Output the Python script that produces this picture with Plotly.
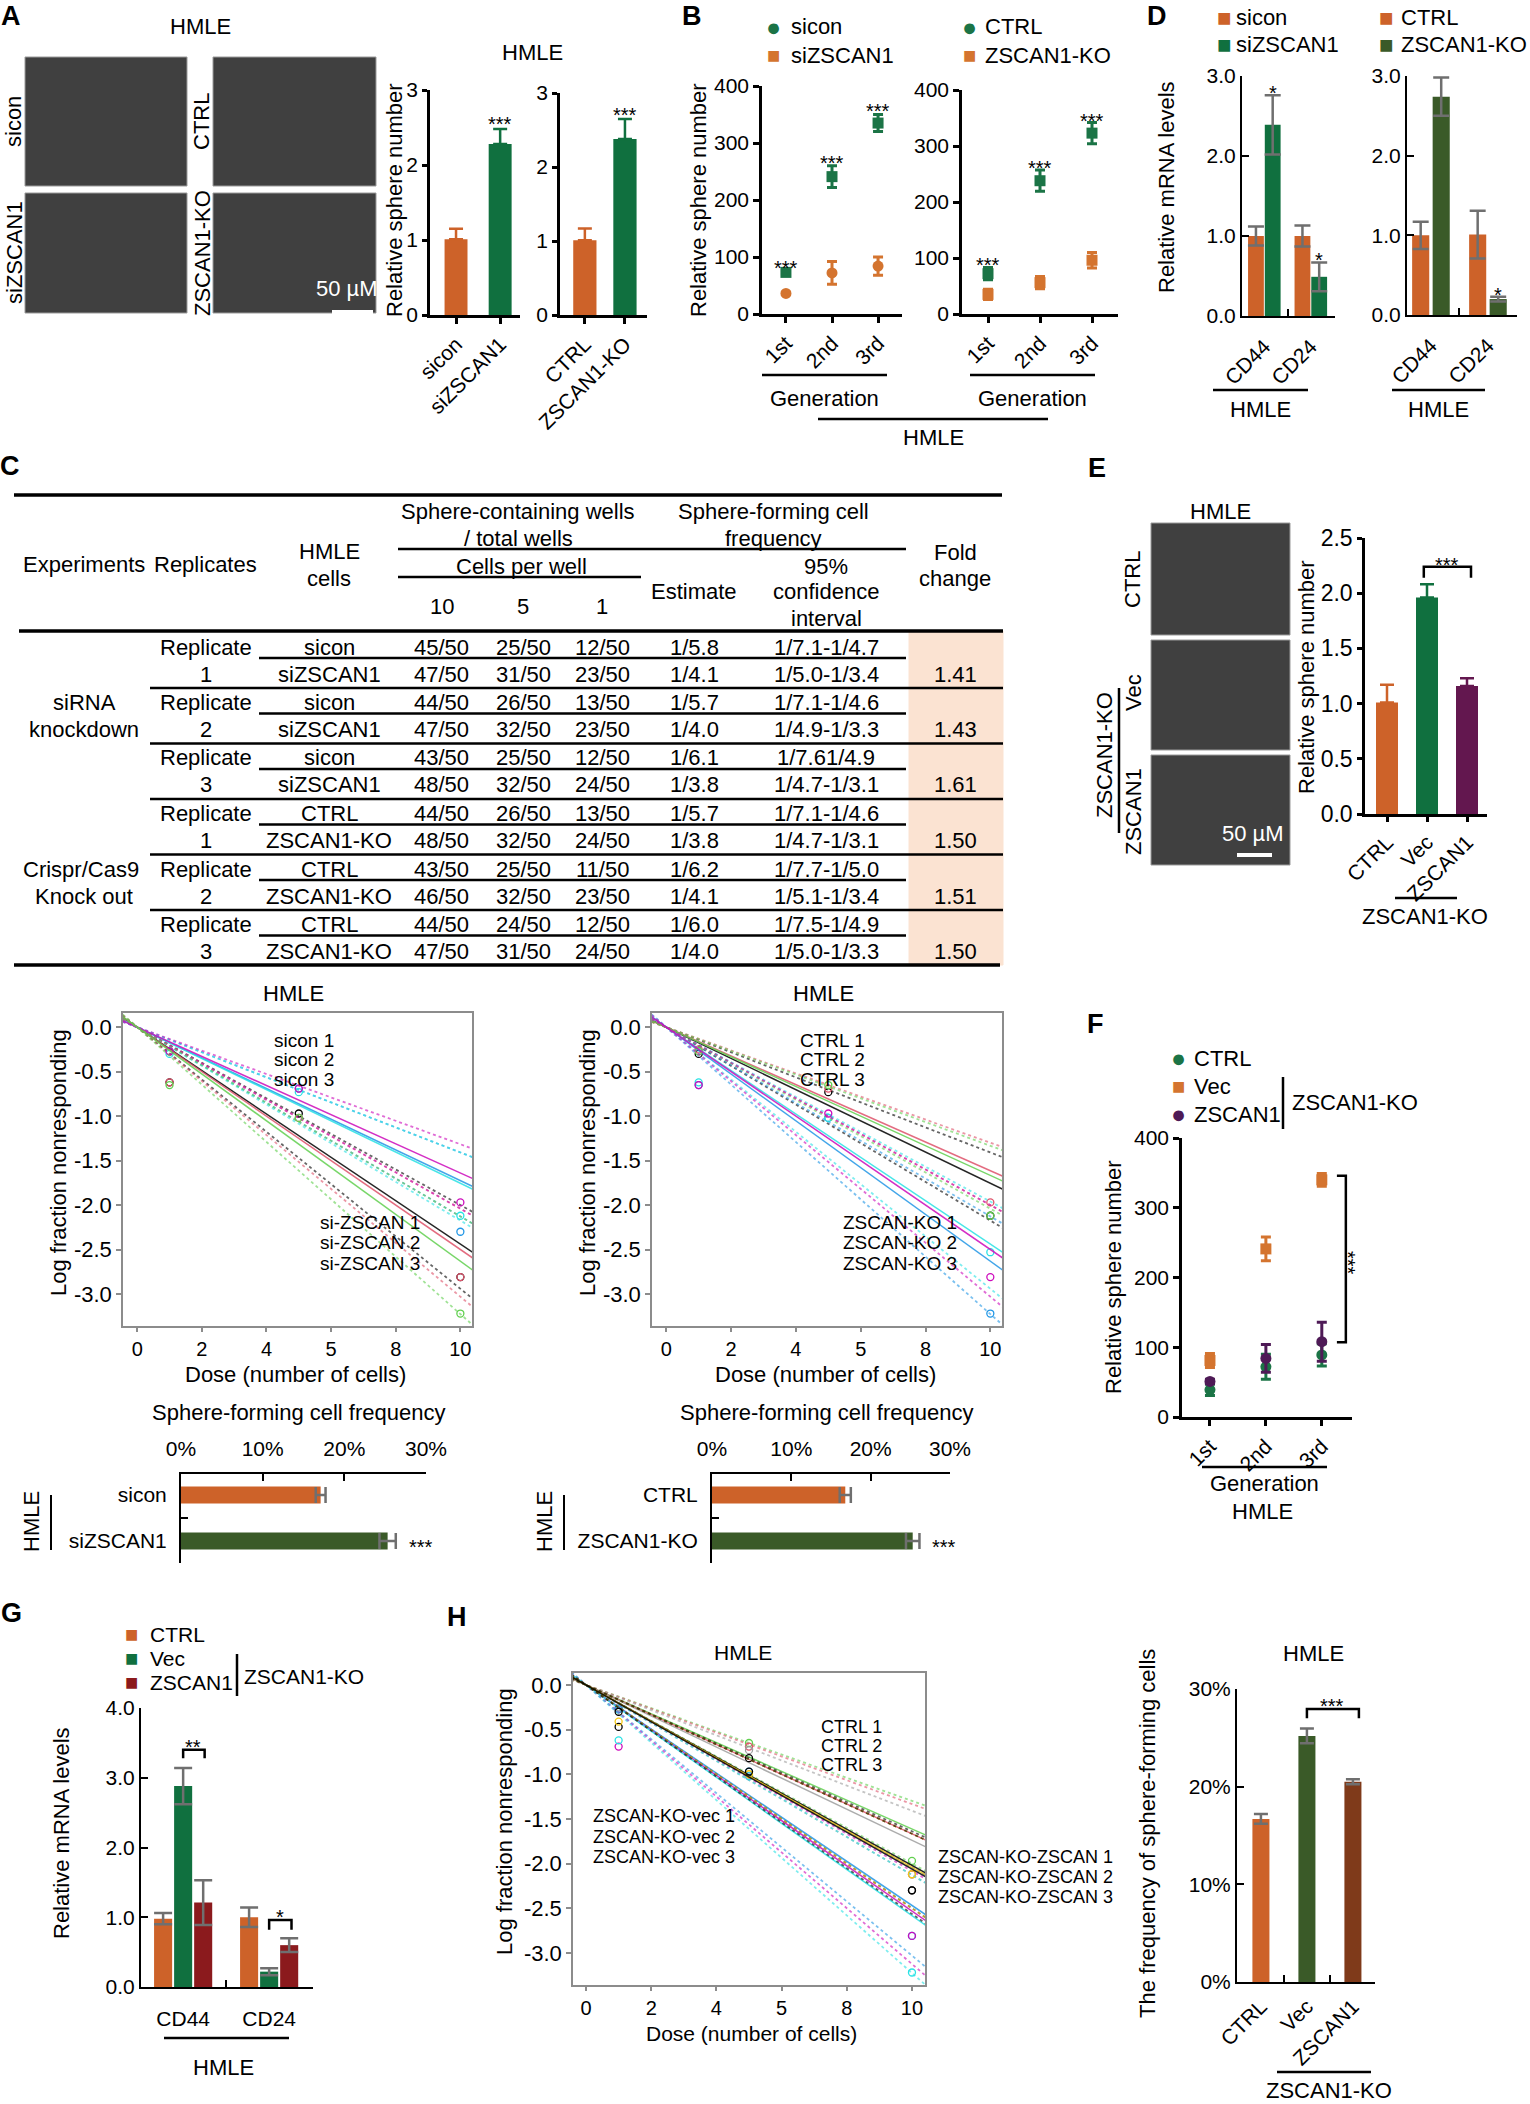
import plotly.graph_objects as go

W, H = 1530, 2104
FONT = "Liberation Sans, Arial, Helvetica, sans-serif"

ORANGE = "#cd6229"
GREEN = "#10703f"
OLIVE = "#3a5a28"
PURPLE = "#63174f"
CRIMSON = "#8b1a1d"
RUST = "#7f3a1a"
B_GREEN = "#1b7446"
B_ORANGE = "#d4742f"
F_PURPLE = "#4e1a56"
ERR = "#6f6f6f"
R_PAL = ["#000000", "#DF536B", "#61D04F", "#2297E6", "#28E2E5", "#CD0BBC", "#F5C710", "#9E9E9E"]

# ---------------- data ----------------
# A  relative sphere number
a_si_groups = ["sicon", "siZSCAN1"]
a_si_mean = [1.01, 2.28]
a_si_sem = [0.14, 0.20]
a_ko_groups = ["CTRL", "ZSCAN1-KO"]
a_ko_mean = [1.01, 2.38]
a_ko_sem = [0.16, 0.27]

# B  serial sphere formation
generations = ["1st", "2nd", "3rd"]
b_sicon = [73, 241, 335]
b_sicon_sem = [3, 19, 15]
b_siz = [36, 72, 84]
b_siz_sem = [2, 20, 16]
b_ctrl = [72, 238, 323]
b_ctrl_sem = [11, 19, 19]
b_ko = [35, 56, 96]
b_ko_sem = [9, 11, 14]

# C  limiting dilution table (rows: rep1 ctrl, rep1 kd, rep2 ctrl, ...)
rep_cells = ["sicon", "siZSCAN1"] * 3 + ["CTRL", "ZSCAN1-KO"] * 3
wells_10 = [45, 47, 44, 47, 43, 48, 44, 48, 43, 46, 44, 47]
wells_5 = [25, 31, 26, 32, 25, 32, 26, 32, 25, 32, 24, 31]
wells_1 = [12, 23, 13, 23, 12, 24, 13, 24, 11, 23, 12, 24]
estimate = [5.8, 4.1, 5.7, 4.0, 6.1, 3.8, 5.7, 3.8, 6.2, 4.1, 6.0, 4.0]
ci_text = ["1/7.1-1/4.7", "1/5.0-1/3.4", "1/7.1-1/4.6", "1/4.9-1/3.3", "1/7.61/4.9", "1/4.7-1/3.1",
           "1/7.1-1/4.6", "1/4.7-1/3.1", "1/7.7-1/5.0", "1/5.1-1/3.4", "1/7.5-1/4.9", "1/5.0-1/3.3"]
ci_low = [7.1, 5.0, 7.1, 4.9, 7.6, 4.7, 7.1, 4.7, 7.7, 5.1, 7.5, 5.0]
ci_high = [4.7, 3.4, 4.6, 3.3, 4.9, 3.1, 4.6, 3.1, 5.0, 3.4, 4.9, 3.3]
fold_change = ["1.41", "1.43", "1.61", "1.50", "1.51", "1.50"]

# C  log fraction nonresponding at doses 1, 5, 10 (same row order as table)
elda_doses = [1, 5, 10]
lf_points = [
    [-0.27, -0.69, -2.30], [-0.62, -0.97, -2.81],
    [-0.30, -0.73, -2.12], [-0.62, -1.02, -2.81],
    [-0.27, -0.69, -1.97], [-0.65, -1.02, -3.22],
    [-0.30, -0.73, -2.12], [-0.65, -1.02, -3.22],
    [-0.25, -0.69, -1.97], [-0.62, -1.02, -2.53],
    [-0.27, -0.65, -2.12], [-0.65, -0.97, -2.81],
]
dose_ticks = [0, 2, 4, 6, 8, 10]
dose_ticktext = ["0", "2", "4", "5", "8", "10"]
lf_ticks = [0, -0.5, -1, -1.5, -2, -2.5, -3]
lf_ticktext = ["0.0", "-0.5", "-1.0", "-1.5", "-2.0", "-2.5", "-3.0"]
pct_ticks = [0, 10, 20, 30]
pct_ticktext = ["0%", "10%", "20%", "30%"]

# C  sphere-forming cell frequency (%)
c_si_groups = ["sicon", "siZSCAN1"]
c_si_freq = [17.1, 25.3]
c_si_sem = [0.6, 1.0]
c_ko_groups = ["CTRL", "ZSCAN1-KO"]
c_ko_freq = [16.8, 25.3]
c_ko_sem = [0.7, 0.85]

# D  relative mRNA
genes = ["CD44", "CD24"]
d_sicon = [1.0, 1.0]
d_sicon_sem = [0.12, 0.13]
d_siz = [2.39, 0.49]
d_siz_sem = [0.37, 0.18]
d_ctrl = [1.0, 1.01]
d_ctrl_sem = [0.17, 0.30]
d_ko = [2.74, 0.20]
d_ko_sem = [0.24, 0.03]

# E  rescue, relative sphere number
rescue_groups = ["CTRL", "Vec", "ZSCAN1"]
e_mean = [1.01, 1.96, 1.16]
e_sem = [0.16, 0.12, 0.07]

# F  serial sphere formation, rescue
f_ctrl = [39, 72, 89]
f_ctrl_sem = [8, 18, 16]
f_vec = [81, 241, 340]
f_vec_sem = [10, 17, 9]
f_zscan = [51, 84, 108]
f_zscan_sem = [3, 20, 28]

# G  relative mRNA, rescue
g_ctrl = [0.98, 1.00]
g_ctrl_sem = [0.08, 0.14]
g_vec = [2.88, 0.22]
g_vec_sem = [0.26, 0.05]
g_zscan = [1.21, 0.60]
g_zscan_sem = [0.32, 0.10]

# H  limiting dilution, rescue
h_names = ["CTRL", "ZSCAN-KO-vec", "ZSCAN-KO-ZSCAN"]
h_est = [6.2, 6.0, 5.75, 4.05, 3.95, 3.87, 4.95, 4.9, 4.85]
h_ci_low = [7.7, 7.5, 7.1, 4.9, 4.8, 4.7, 6.1, 6.0, 6.0]
h_ci_high = [5.0, 4.9, 4.7, 3.3, 3.2, 3.1, 4.0, 4.0, 3.9]
h_points = [
    [-0.27, -0.65, -1.97], [-0.27, -0.69, -2.12], [-0.25, -0.73, -2.12],
    [-0.27, -0.97, -2.81], [-0.69, -1.02, -2.81], [-0.62, -1.02, -3.22],
    [-0.47, -0.82, -2.30], [-0.41, -1.00, -2.12], [-0.30, -0.97, -2.30],
]
h_freq = [16.7, 25.2, 20.5]
h_freq_sem = [0.5, 0.75, 0.25]

fig = go.Figure()
axis_no = [0]


def axes(left, right, top, bottom, xaxis, yaxis):
    axis_no[0] += 1
    s = "" if axis_no[0] == 1 else str(axis_no[0])
    fig.update_layout({
        "xaxis" + s: dict(domain=[left / W, right / W], anchor="y" + s, **xaxis),
        "yaxis" + s: dict(domain=[1 - bottom / H, 1 - top / H], anchor="x" + s, **yaxis),
    })
    return "x" + s, "y" + s


def prism(**kw):
    ax = dict(showline=True, linecolor="black", linewidth=2.5, ticks="outside", ticklen=6,
              tickwidth=2.5, tickcolor="black", showgrid=False, zeroline=False, fixedrange=True,
              automargin=False, tickfont=dict(family=FONT, size=21, color="black"))
    ax.update(kw)
    return ax


def excel(**kw):
    ax = prism(linewidth=2, tickwidth=2, ticks="inside", ticklen=7)
    ax.update(kw)
    return ax


def elda(**kw):
    ax = dict(showline=True, mirror=True, linecolor="#8c8c8c", linewidth=1.5, ticks="outside",
              ticklen=5, tickwidth=1.5, tickcolor="#8c8c8c", showgrid=False, zeroline=False,
              fixedrange=True, automargin=False, tickfont=dict(family=FONT, size=22, color="black"))
    ax.update(kw)
    return ax


def text(x, y, s, size=22, color="black", angle=0, anchor="center"):
    fig.add_annotation(x=x / W, y=1 - y / H, xref="paper", yref="paper", text=s, showarrow=False,
                       textangle=angle, xanchor=anchor, yanchor="middle",
                       font=dict(family=FONT, size=size, color=color))


def line(x0, y0, x1, y1, width=2.0, color="black"):
    fig.add_shape(type="line", xref="paper", yref="paper", x0=x0 / W, y0=1 - y0 / H,
                  x1=x1 / W, y1=1 - y1 / H, line=dict(color=color, width=width))


def rect(x0, y0, x1, y1, fill, edge=None):
    fig.add_shape(type="rect", xref="paper", yref="paper", x0=x0 / W, y0=1 - y0 / H,
                  x1=x1 / W, y1=1 - y1 / H, fillcolor=fill, layer="below",
                  line=dict(color=edge or fill, width=1))


def stars(xa, ya, x, y, s, size=20):
    fig.add_annotation(x=x, y=y, xref=xa, yref=ya, text=s, showarrow=False, yshift=-6,
                       font=dict(family=FONT, size=size, color="black"))


def bracket(xa, ya, xs, ys, width=2.5):
    path = "M" + " L".join(f"{a},{b}" for a, b in zip(xs, ys))
    fig.add_shape(type="path", xref=xa, yref=ya, path=path, line=dict(color="black", width=width))


def bar(xa, ya, x, y, color, width, err, err_color=None, up_only=False, offset=None, cap=7,
        horizontal=False):
    eb = dict(type="data", array=err, color=err_color or color, thickness=2.5, width=cap)
    if up_only:
        eb.update(symmetric=False, arrayminus=[0] * len(err))
    kw = dict(error_x=eb, orientation="h", x=y, y=x) if horizontal else dict(error_y=eb, x=x, y=y)
    fig.add_trace(go.Bar(width=width, offset=offset, marker=dict(color=color, line=dict(width=0)),
                         xaxis=xa, yaxis=ya, showlegend=False, hoverinfo="skip", **kw))


def points(xa, ya, x, y, err, color, symbol):
    fig.add_trace(go.Scatter(x=x, y=y, mode="markers", marker=dict(symbol=symbol, size=11, color=color),
                             error_y=dict(type="data", array=err, color=color, thickness=3, width=5),
                             xaxis=xa, yaxis=ya, showlegend=False, hoverinfo="skip"))


fit_span = [-0.45, 10.45]


def elda_group(xa, ya, est, lo, hi, pts, color):
    fig.add_trace(go.Scatter(x=fit_span, y=[-d / est for d in fit_span], mode="lines",
                             line=dict(color=color, width=1.5), opacity=0.85, xaxis=xa, yaxis=ya,
                             showlegend=False, hoverinfo="skip"))
    for b in (lo, hi):
        fig.add_trace(go.Scatter(x=fit_span, y=[-d / b for d in fit_span], mode="lines",
                                 line=dict(color=color, width=1.8, dash="dot"), opacity=0.6,
                                 xaxis=xa, yaxis=ya, showlegend=False, hoverinfo="skip"))
    fig.add_trace(go.Scatter(x=elda_doses, y=pts, mode="markers",
                             marker=dict(symbol="circle-open", size=7, color=color, line=dict(width=1.3)),
                             xaxis=xa, yaxis=ya, showlegend=False, hoverinfo="skip"))


def panel_label(x, y, s):
    text(x, y, f"<b>{s}</b>", size=27)


def dot(x, y, color):
    text(x, y, "●", 25, color)


def square(x, y, color, size=24):
    text(x, y, "■", size, color)


# ---------------- A ----------------
panel_label(11, 16, "A")
text(200, 26, "HMLE")
for box in [(25, 57, 187, 186), (213, 57, 376, 186), (25, 193, 187, 313), (213, 193, 376, 313)]:
    rect(*box, fill="#404040", edge="#9a9a9a")
text(14, 122, "sicon", angle=-90)
text(202, 122, "CTRL", angle=-90)
text(14, 253, "siZSCAN1", angle=-90)
text(202, 253, "ZSCAN1-KO", angle=-90)
text(347, 288, "50 µM", color="white")
line(332, 312, 373, 312, 4, "white")
text(532, 52, "HMLE")
text(394, 200, "Relative sphere number", angle=-90)

xa, ya = axes(430, 520, 90, 315, prism(type="category", range=[-0.59, 1.45], tickangle=-45),
              prism(range=[0, 3], tickvals=[0, 1, 2, 3], ticklen=5))
for g, m, e, c in zip(a_si_groups, a_si_mean, a_si_sem, [ORANGE, GREEN]):
    bar(xa, ya, [g], [m], c, 0.52, [e], up_only=True)
stars(xa, ya, a_si_groups[1], 2.62, "***")

xa, ya = axes(560, 647, 93, 315, prism(type="category", range=[-0.62, 1.55], tickangle=-45),
              prism(range=[0, 3], tickvals=[0, 1, 2, 3], ticklen=5))
for g, m, e, c in zip(a_ko_groups, a_ko_mean, a_ko_sem, [ORANGE, GREEN]):
    bar(xa, ya, [g], [m], c, 0.58, [e], up_only=True)
stars(xa, ya, a_ko_groups[1], 2.78, "***")

# ---------------- B ----------------
panel_label(692, 16, "B")
dot(773, 27, B_GREEN)
text(789, 27, "sicon", anchor="left")
square(773, 55, B_ORANGE, 22)
text(789, 55, "siZSCAN1", anchor="left")
dot(969, 27, B_GREEN)
text(983, 27, "CTRL", anchor="left")
square(969, 55, B_ORANGE, 22)
text(983, 55, "ZSCAN1-KO", anchor="left")
text(698, 200, "Relative sphere number", angle=-90)

ytick400 = dict(range=[0, 400], tickvals=[0, 100, 200, 300, 400])
xa, ya = axes(762, 902, 86, 314, prism(type="category", range=[-0.52, 2.52], tickangle=-45), prism(**ytick400))
points(xa, ya, generations, b_siz, b_siz_sem, B_ORANGE, "circle")
points(xa, ya, generations, b_sicon, b_sicon_sem, B_GREEN, "square")
for g, s in zip(generations, [92, 275, 366]):
    stars(xa, ya, g, s, "***")

xa, ya = axes(962, 1118, 90, 314, prism(type="category", range=[-0.5, 2.5], tickangle=-45), prism(**ytick400))
points(xa, ya, generations, b_ko, b_ko_sem, B_ORANGE, "square")
points(xa, ya, generations, b_ctrl, b_ctrl_sem, B_GREEN, "square")
for g, s in zip(generations, [98, 272, 355]):
    stars(xa, ya, g, s, "***")

line(762, 375, 887, 375, 2.5)
line(970, 375, 1095, 375, 2.5)
text(824, 398, "Generation")
text(1032, 398, "Generation")
line(818, 419, 1048, 419, 2.5)
text(933, 438, "HMLE")

# ---------------- D ----------------
panel_label(1157, 16, "D")
square(1224, 17, ORANGE)
text(1234, 17, "sicon", anchor="left")
square(1224, 45, GREEN)
text(1234, 45, "siZSCAN1", anchor="left")
square(1386, 17, ORANGE)
text(1399, 17, "CTRL", anchor="left")
square(1386, 45, OLIVE)
text(1399, 45, "ZSCAN1-KO", anchor="left")
text(1167, 187, "Relative mRNA levels", angle=-90)

ytick3 = dict(range=[0, 3], tickvals=[0, 1, 2, 3], tickformat=".1f")
xa, ya = axes(1242, 1335, 76, 316,
              excel(type="category", range=[-0.48, 1.52], tickangle=-45, tickson="boundaries", ticklabelstandoff=8),
              excel(**ytick3))
bar(xa, ya, genes, d_sicon, ORANGE, 0.34, d_sicon_sem, ERR, offset=-0.35, cap=8)
bar(xa, ya, genes, d_siz, GREEN, 0.34, d_siz_sem, ERR, offset=0.01, cap=8)
stars(xa, ya, 0.18, 2.86, "*")
stars(xa, ya, 1.18, 0.78, "*")

xa, ya = axes(1407, 1517, 76, 315,
              excel(type="category", range=[-0.42, 1.51], tickangle=-45, tickson="boundaries", ticklabelstandoff=8),
              excel(**ytick3))
bar(xa, ya, genes, d_ctrl, ORANGE, 0.3, d_ctrl_sem, ERR, offset=-0.33, cap=8)
bar(xa, ya, genes, d_ko, OLIVE, 0.3, d_ko_sem, ERR, offset=0.03, cap=8)
stars(xa, ya, 0.18, 3.1, "***")
stars(xa, ya, 1.18, 0.33, "*")

line(1213, 390, 1308, 390, 2.5)
line(1392, 390, 1485, 390, 2.5)
text(1260, 409, "HMLE")
text(1438, 409, "HMLE")

# ---------------- C: table ----------------
panel_label(10, 466, "C")
TS = 22
line(14, 495, 1002, 495, 3.5)
text(518, 512, "Sphere-containing wells", TS)
text(518, 538, "/ total wells", TS)
text(773, 512, "Sphere-forming cell", TS)
text(773, 538, "frequency", TS)
line(398, 549, 906, 549, 2.5)
text(521, 566, "Cells per well", TS)
line(398, 577, 641, 577, 2.5)
text(84, 564, "Experiments", TS)
text(205, 564, "Replicates", TS)
text(329, 551, "HMLE", TS)
text(329, 578, "cells", TS)
for x, s in zip([442, 523, 602], ["10", "5", "1"]):
    text(x, 606, s, TS)
text(694, 592, "Estimate", TS)
text(826, 566, "95%", TS)
text(826, 592, "confidence", TS)
text(826, 618, "interval", TS)
text(955, 552, "Fold", TS)
text(955, 578, "change", TS)
rect(909, 631, 1003, 965, fill="#fbe3d2")
line(19, 631, 1003, 631, 3.5)
for k in range(6):
    y1 = 647 + 55.5 * k
    y2 = y1 + 27
    text(206, y1, "Replicate", TS)
    text(206, y2, str(k % 3 + 1), TS)
    for j, y in ((2 * k, y1), (2 * k + 1, y2)):
        text(329, y, rep_cells[j], TS)
        text(442, y, f"{wells_10[j]}/50", TS)
        text(523, y, f"{wells_5[j]}/50", TS)
        text(602, y, f"{wells_1[j]}/50", TS)
        text(694, y, f"1/{estimate[j]:.1f}", TS)
        text(826, y, ci_text[j], TS)
    text(955, y2, fold_change[k], TS)
    line(259, y1 + 11, 906, y1 + 11, 2.5)
    if k < 5:
        line(150, y2 + 14, 1003, y2 + 14, 2.5)
line(14, 965, 1000, 965, 3.5)
text(84, 702, "siRNA", TS)
text(84, 729, "knockdown", TS)
text(81, 869, "Crispr/Cas9", TS)
text(84, 896, "Knock out", TS)

# ---------------- C: ELDA plots ----------------
row_colors = [R_PAL[i] for i in [3, 0, 4, 1, 5, 2, 0, 3, 1, 4, 2, 5]]
elda_x = dict(tickvals=dose_ticks, ticktext=dose_ticktext, ticklen=4,
              tickfont=dict(family=FONT, size=20, color="black"))
elda_y = dict(range=[-3.36, 0.16], tickvals=lf_ticks, ticktext=lf_ticktext)
for left, right, rows, labels in [
    (123, 472, range(0, 6), (["sicon 1", "sicon 2", "sicon 3"], 304, ["si-ZSCAN 1", "si-ZSCAN 2", "si-ZSCAN 3"], 370)),
    (652, 1002, range(6, 12), (["CTRL 1", "CTRL 2", "CTRL 3"], 833, ["ZSCAN-KO 1", "ZSCAN-KO 2", "ZSCAN-KO 3"], 900)),
]:
    xa, ya = axes(left, right, 1013, 1326, elda(range=[-0.44, 10.36], **elda_x), elda(**elda_y))
    for j in rows:
        elda_group(xa, ya, estimate[j], ci_low[j], ci_high[j], lf_points[j], row_colors[j])
    mid = (left + right) / 2
    text(mid - 4, 993, "HMLE", 22)
    text(mid - 2, 1374, "Dose (number of cells)", 22)
    text(left - 65, 1163, "Log fraction nonresponding", 22, angle=-90)
    top_labels, tx, bottom_labels, bx = labels
    for i, s in enumerate(top_labels):
        text(tx, 1040 + 19.5 * i, s, 19)
    for i, s in enumerate(bottom_labels):
        text(bx, 1222 + 20.5 * i, s, 19)

# ---------------- C: frequency bars ----------------
for left, right, groups, freq, sem, hx in [
    (181, 426, c_si_groups, c_si_freq, c_si_sem, 31),
    (712, 950, c_ko_groups, c_ko_freq, c_ko_sem, 544),
]:
    xa, ya = axes(left, right, 1474, 1563,
                  excel(side="top", range=[0, 30], tickvals=pct_ticks, ticktext=pct_ticktext, ticklabelstandoff=8),
                  excel(type="category", range=[1.48, -0.46], tickson="boundaries", ticklabelstandoff=8))
    for g, f, e, c in zip(groups, freq, sem, [ORANGE, OLIVE]):
        bar(xa, ya, [g], [f], c, 0.37, [e], ERR, cap=8, horizontal=True)
    fig.add_annotation(x=freq[1] + sem[1] + 3.1, y=groups[1], xref=xa, yref=ya, text="***", showarrow=False,
                       yshift=-6, font=dict(family=FONT, size=20, color="black"))
    text((left + right) / 2 - 5, 1412, "Sphere-forming cell frequency", 22)
    text(hx, 1522, "HMLE", 22, angle=-90)
    line(hx + 20, 1495, hx + 20, 1550, 2)

# ---------------- E ----------------
panel_label(1097, 468, "E")
text(1220, 512, "HMLE")
for box in [(1151, 523, 1290, 635), (1151, 640, 1290, 750), (1151, 755, 1290, 865)]:
    rect(*box, fill="#404040", edge="#9a9a9a")
text(1133, 580, "CTRL", angle=-90)
text(1133, 693, "Vec", angle=-90)
text(1133, 812, "ZSCAN1", angle=-90)
text(1105, 755, "ZSCAN1-KO", angle=-90)
line(1119, 688, 1119, 833, 2.5)
text(1253, 833, "50 µM", color="white")
line(1237, 855, 1272, 855, 4, "white")
text(1306, 677, "Relative sphere number", angle=-90)

xa, ya = axes(1365, 1487, 538, 814,
              prism(type="category", range=[-0.55, 2.5], tickangle=-45, ticklen=5),
              prism(range=[0, 2.5], tickvals=[0, 0.5, 1, 1.5, 2, 2.5], tickformat=".1f", ticklen=5,
                    tickfont=dict(family=FONT, size=23, color="black")))
for g, m, e, c in zip(rescue_groups, e_mean, e_sem, [ORANGE, GREEN, PURPLE]):
    bar(xa, ya, [g], [m], c, 0.55, [e], up_only=True)
bracket(xa, ya, [0.92, 0.92, 2.1, 2.1], [2.14, 2.24, 2.24, 2.14])
stars(xa, ya, 1.5, 2.31, "***")
line(1395, 898, 1457, 898, 2.5)
text(1425, 916, "ZSCAN1-KO")

# ---------------- F ----------------
panel_label(1095, 1024, "F")
dot(1178, 1058, B_GREEN)
text(1192, 1058, "CTRL", anchor="left")
square(1178, 1086, B_ORANGE, 22)
text(1192, 1086, "Vec", anchor="left")
dot(1178, 1114, F_PURPLE)
text(1192, 1114, "ZSCAN1", anchor="left")
line(1283, 1077, 1283, 1129, 2.5)
text(1290, 1102, "ZSCAN1-KO", anchor="left")
text(1113, 1277, "Relative sphere number", angle=-90)

xa, ya = axes(1182, 1352, 1138, 1417, prism(type="category", range=[-0.5, 2.54], tickangle=-45), prism(**ytick400))
points(xa, ya, generations, f_ctrl, f_ctrl_sem, B_GREEN, "circle")
points(xa, ya, generations, f_vec, f_vec_sem, B_ORANGE, "square")
points(xa, ya, generations, f_zscan, f_zscan_sem, F_PURPLE, "circle")
bracket(xa, ya, [2.27, 2.43, 2.43, 2.27], [346, 346, 107, 107])
text(1348, 1263, "***", 20, angle=90)
line(1202, 1467, 1327, 1467, 2.5)
text(1264, 1483, "Generation")
text(1262, 1511, "HMLE")

# ---------------- G ----------------
panel_label(11, 1613, "G")
square(131, 1634, ORANGE, 22)
text(148, 1634, "CTRL", 21, anchor="left")
square(131, 1658, GREEN, 22)
text(148, 1658, "Vec", 21, anchor="left")
square(131, 1682, CRIMSON, 22)
text(148, 1682, "ZSCAN1", 21, anchor="left")
line(237, 1654, 237, 1696, 2.5)
text(242, 1676, "ZSCAN1-KO", 21, anchor="left")
text(61, 1833, "Relative mRNA levels", angle=-90)

xa, ya = axes(141, 313, 1708, 1987,
              excel(type="category", range=[-0.49, 1.51], tickson="boundaries", ticklabelstandoff=12),
              excel(range=[0, 4], tickvals=[0, 1, 2, 3, 4], tickformat=".1f"))
bar(xa, ya, genes, g_ctrl, ORANGE, 0.21, g_ctrl_sem, ERR, offset=-0.338, cap=9)
bar(xa, ya, genes, g_vec, GREEN, 0.21, g_vec_sem, ERR, offset=-0.105, cap=9)
bar(xa, ya, genes, g_zscan, CRIMSON, 0.21, g_zscan_sem, ERR, offset=0.128, cap=9)
bracket(xa, ya, [0.0, 0.0, 0.25, 0.25], [3.28, 3.40, 3.40, 3.28])
stars(xa, ya, 0.12, 3.53, "**")
bracket(xa, ya, [1.0, 1.0, 1.26, 1.26], [0.82, 0.96, 0.96, 0.82])
stars(xa, ya, 1.13, 1.09, "*")
line(164, 2038, 289, 2038, 2.5)
text(223, 2067, "HMLE")

# ---------------- H: ELDA ----------------
panel_label(457, 1617, "H")
h_colors = [R_PAL[i] for i in [2, 1, 7, 3, 5, 4, 0, 6, 0]]
xa, ya = axes(573, 925, 1673, 1985, elda(range=[-0.4, 10.4], **elda_x),
              elda(range=[-3.36, 0.134], tickvals=lf_ticks, ticktext=lf_ticktext))
for j in range(9):
    elda_group(xa, ya, h_est[j], h_ci_low[j], h_ci_high[j], h_points[j], h_colors[j])
text(743, 1652, "HMLE", 21)
text(751, 2033, "Dose (number of cells)", 21)
text(504, 1822, "Log fraction nonresponding", 22, angle=-90)
for i in range(3):
    text(851, 1727 + 19 * i, f"{h_names[0]} {i + 1}", 18)
    text(664, 1816 + 20.5 * i, f"{h_names[1]} {i + 1}", 18)
    text(936, 1857 + 20 * i, f"{h_names[2]} {i + 1}", 18, anchor="left")

# ---------------- H: frequency bars ----------------
text(1313, 1653, "HMLE")
text(1147, 1834, "The frequency of sphere-forming cells", angle=-90)
xa, ya = axes(1237, 1375, 1689, 1982,
              excel(type="category", range=[-0.52, 2.48], tickangle=-45, tickson="boundaries", ticklabelstandoff=2),
              excel(range=[0, 30], tickvals=pct_ticks, ticktext=pct_ticktext))
for g, m, e, c in zip(rescue_groups, h_freq, h_freq_sem, [ORANGE, OLIVE, RUST]):
    bar(xa, ya, [g], [m], c, 0.37, [e], ERR, cap=7)
bracket(xa, ya, [1.0, 1.0, 2.13, 2.13], [27.0, 27.95, 27.95, 27.0])
stars(xa, ya, 1.54, 28.9, "***")
line(1277, 2072, 1371, 2072, 2.5)
text(1329, 2090, "ZSCAN1-KO")

fig.update_layout(
    width=W, height=H, autosize=False,
    margin=dict(l=0, r=0, t=0, b=0, pad=0, autoexpand=False),
    paper_bgcolor="white", plot_bgcolor="rgba(0,0,0,0)",
    barmode="overlay", showlegend=False,
    font=dict(family=FONT, color="black"),
)

fig.write_html("out.html", config={"displayModeBar": False},
               post_script="document.body.style.margin='0px';")
